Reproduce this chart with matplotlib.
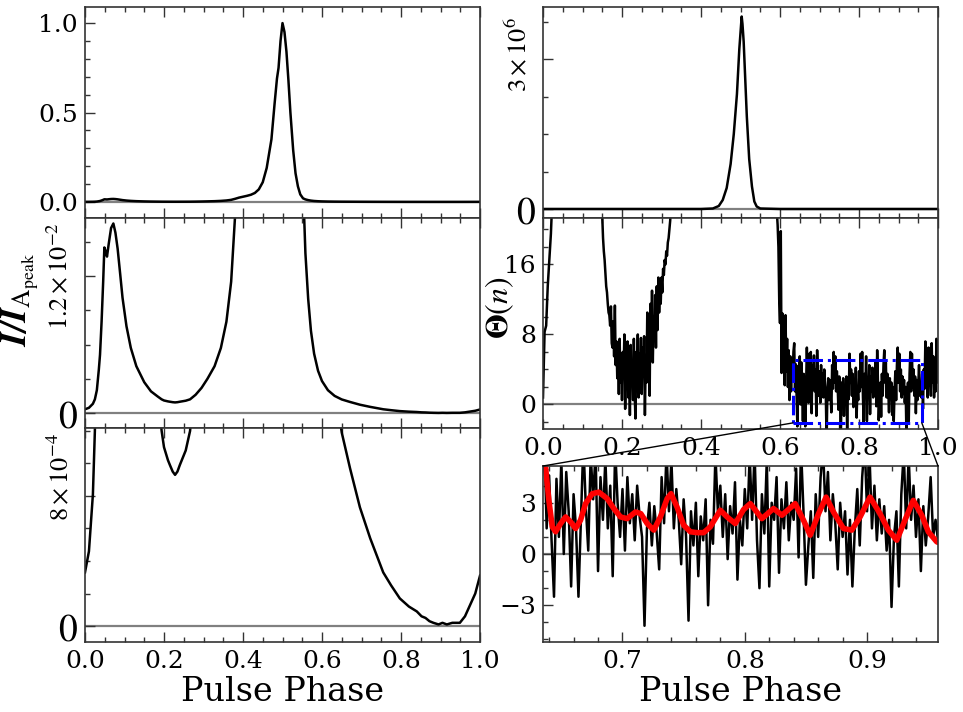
import numpy as np
import matplotlib
matplotlib.use("Agg")
import matplotlib.pyplot as plt
from matplotlib.patches import Rectangle, ConnectionPatch
from matplotlib.ticker import MultipleLocator, FixedLocator

# ---- pulse profile, normalised to the main peak (left column) ----
prof_phase = [0.000, 0.010, 0.020, 0.025, 0.030, 0.035, 0.038, 0.042, 0.046, 0.049,
              0.052, 0.0557, 0.060, 0.066, 0.0718, 0.077, 0.0826, 0.089, 0.095, 0.105,
              0.116, 0.130, 0.150, 0.167, 0.184, 0.194, 0.200, 0.210, 0.215, 0.222,
              0.228, 0.234, 0.240, 0.245, 0.255, 0.266, 0.280, 0.295, 0.310, 0.328,
              0.344, 0.358, 0.370, 0.380, 0.390, 0.400, 0.410, 0.420, 0.430, 0.440,
              0.450, 0.460, 0.472, 0.480, 0.486, 0.490, 0.495, 0.500, 0.505, 0.510,
              0.515, 0.520, 0.527, 0.533, 0.539, 0.545, 0.552, 0.558, 0.565, 0.572,
              0.580, 0.590, 0.600, 0.615, 0.632, 0.650, 0.671, 0.696, 0.722, 0.755,
              0.775, 0.797, 0.820, 0.840, 0.852, 0.862, 0.872, 0.882, 0.895, 0.905,
              0.916, 0.930, 0.949, 0.962, 0.975, 0.988, 1.000]
prof = [0.00033, 0.00046, 0.00081, 0.00120, 0.0020, 0.0038, 0.0051, 0.0080, 0.0115, 0.0145,
        0.0142, 0.0137, 0.0148, 0.0162, 0.0166, 0.0158, 0.0144, 0.0122, 0.0101, 0.0076,
        0.0057, 0.0041, 0.0027, 0.0019, 0.00145, 0.00120, 0.00110, 0.00102, 0.00099, 0.00095,
        0.00093, 0.00095, 0.00099, 0.00102, 0.00108, 0.00120, 0.0016, 0.0022, 0.0030, 0.0041,
        0.0057, 0.0080, 0.0115, 0.0173, 0.024, 0.029, 0.034, 0.040, 0.050, 0.070,
        0.11, 0.19, 0.35, 0.55, 0.69, 0.75, 0.90, 1.00, 0.95, 0.84,
        0.68, 0.50, 0.29, 0.16, 0.087, 0.042, 0.020, 0.0140, 0.0100, 0.0072,
        0.0052, 0.0037, 0.0028, 0.0020, 0.0015, 0.00119, 0.00097, 0.00073, 0.00054, 0.00033,
        0.00025, 0.00017, 0.00012, 0.00009, 0.00006, 0.00005, 0.00003, 0.00002, 0.00001, 0.00002,
        0.00001, 0.00002, 0.00002, 0.00006, 0.00013, 0.00020, 0.00031]

# ---- counts profile (right top) ----
cnt_phase = [0.000, 0.400, 0.430, 0.445, 0.455, 0.465, 0.475, 0.483, 0.491, 0.497,
             0.503, 0.505, 0.508, 0.512, 0.516, 0.522, 0.529, 0.535, 0.541, 0.550,
             0.600, 1.000]
cnt = [0.0, 0.0, 0.01e6, 0.06e6, 0.18e6, 0.42e6, 0.90e6, 1.50e6, 2.30e6, 3.20e6,
       3.85e6, 3.70e6, 3.35e6, 2.60e6, 1.85e6, 1.00e6, 0.45e6, 0.15e6, 0.05e6, 0.01e6,
       0.0, 0.0]

# ---- Theta(n) statistic ----
theta_rise_phase = [0.000, 0.004, 0.008, 0.012, 0.016, 0.020, 0.024, 0.060, 0.100, 0.140]
theta_rise = [0.8, 8.3, 9.0, 13.5, 16.4, 19.5, 24.0, 60.0, 60.0, 40.0]

theta_dip_start, theta_bin = 0.150, 0.002
theta_dip = [21.5, 19.0, 17.5, 16.5, 15.0, 13.5, 12.8, 11.5, 10.5, 10.2,
             9.0, 11.2, 7.0, 6.5, 9.5, 5.5, 11.3, 4.5, 7.2, 3.0,
             6.5, 1.2, 7.5, 2.5, 5.8, 0.5, 6.0, 3.5, 8.0, -0.5,
             4.5, 2.0, 7.2, 0.8, 5.0, -1.2, 6.8, 2.5, 4.2, 0.5,
             7.5, 1.5, -1.6, 6.0, 3.0, 8.0, 0.8, 5.8, 2.2, 7.6,
             1.2, 6.5, 3.8, 7.8, -1.2, 5.0, 2.5, 10.5, 4.8, 9.5,
             1.0, 11.5, 5.5, 13.0, 4.8, 10.0, 7.5, 12.5, 6.5, 13.5,
             8.5, 14.5, 10.5, 13.2, 11.5, 14.5, 12.8, 15.5, 14.8, 16.5,
             16.0, 17.5, 17.0, 18.5, 19.0, 20.0, 21.0, 23.0, 25.0, 40.0]

theta_gap_phase = [0.400, 0.500, 0.560]
theta_gap = [80.0, 200.0, 80.0]

theta_tail_start = 0.590
theta_tail = [30.0, 22.0, 20.5, 18.0, 12.0, 9.3, 19.8, 3.6, 10.4, 4.5,
              9.5, 2.2, 10.2, 3.8, 7.5, 2.0, 6.2, 0.5, 5.5, 1.5,
              4.8, 3.0, 6.0, 7.0, 1.5, 4.6, 0.8, -2.5, 4.4, 1.0,
              5.5, 0.0, 4.8, 2.5, -1.9, 3.5, 1.5, -2.5, 2.0, 6.5,
              2.8, 0.2, 5.8, 3.2, 6.0, -1.0, 4.5, 2.0, 5.6, 1.5,
              4.0, -1.3, 6.2, 3.0, 1.0, 3.8, 0.2, 4.5, 1.8, 3.5,
              0.8, 4.0, 2.2, 1.0, -4.2, 1.5, 3.0, 0.5, 2.8, 1.2,
              -0.9, 4.5, 1.8, 6.0, 2.5, 5.5, 1.5, 3.8, 2.0, -0.6,
              3.2, 1.0, -3.9, 2.5, 0.5, 3.0, -1.3, 2.2, 0.8, 3.2,
              -3.0, 2.0, 0.6, 5.8, 2.5, 4.0, 1.0, 3.5, -0.3, 2.8,
              1.2, 4.2, -1.5, 2.0, 0.5, 3.8, 1.5, 5.8, 2.0, 6.0,
              0.8, -2.0, 3.5, 1.2, 5.5, -1.9, 3.0, 2.0, 4.5, -1.1,
              3.2, 1.5, 4.2, 0.8, 3.0, 2.0, 5.0, -0.2, 6.2, 2.5,
              -1.8, 0.5, 2.5, -1.4, 3.5, 1.0, 4.5, 6.2, 2.5, 4.8,
              0.8, 3.5, 1.8, -0.9, 3.0, 1.0, 2.5, -1.2, 2.0, -1.9,
              1.5, 3.8, 0.5, 4.5, 6.5, 2.5, 5.8, 1.5, 4.0, 0.8,
              3.2, 1.2, 2.8, 0.2, 2.0, -3.1, 1.0, 2.5, -1.9, 3.5,
              6.0, 1.5, 5.8, 2.0, 4.0, 1.0, 3.2, -1.0, 2.8, 0.5,
              2.2, 4.5, 1.0, 2.0, 0.8, 3.5, -0.5, 4.0, 1.8, 7.2,
              2.0, 5.0, 0.8, 6.5, 2.2, 4.5, 1.0, 7.0, 2.5, 5.5,
              0.8, 3.8, 1.5, 7.5, 2.5, 5.0]

# ---- smoothed Theta(n) in the zoomed window (red) ----
smooth_phase = [0.6371, 0.6398, 0.6426, 0.6453, 0.6494, 0.6535, 0.6576, 0.6616, 0.6657, 0.6698,
                0.6753, 0.6807, 0.6875, 0.6929, 0.6984, 0.7038, 0.7106, 0.7150, 0.7202, 0.7256,
                0.7310, 0.7365, 0.7397, 0.7446, 0.7500, 0.7555, 0.7609, 0.7664, 0.7718, 0.7800,
                0.7855, 0.7922, 0.7990, 0.8045, 0.8140, 0.8235, 0.8304, 0.8412, 0.8480, 0.8535,
                0.8603, 0.8665, 0.8725, 0.8807, 0.8875, 0.8943, 0.9024, 0.9106, 0.9174, 0.9243,
                0.9310, 0.9378, 0.9447, 0.9501, 0.9569, 0.9580]
theta_smooth = [5.08, 3.14, 1.59, 1.30, 1.78, 2.17, 1.88, 1.49, 1.98, 2.95,
                3.53, 3.62, 3.24, 2.66, 2.17, 2.07, 2.46, 2.36, 1.78, 1.40,
                2.17, 3.24, 3.53, 2.75, 1.69, 1.30, 1.25, 1.25, 1.59, 2.56,
                2.17, 1.78, 2.60, 2.95, 2.07, 2.66, 2.27, 2.95, 1.98, 1.10,
                2.36, 3.33, 2.46, 1.49, 1.40, 2.17, 3.33, 2.36, 1.40, 0.81,
                1.98, 3.14, 2.27, 1.30, 0.72, 0.68]

zoom_window = (0.635, 0.958)

plt.rcParams.update({
    "font.family": "serif",
    "font.serif": ["DejaVu Serif"],
    "mathtext.fontset": "stix",
    "font.size": 18,
    "xtick.direction": "in",
    "ytick.direction": "in",
    "xtick.top": True,
    "ytick.right": False,
    "xtick.major.size": 7,
    "xtick.minor.size": 3.5,
    "ytick.major.size": 7,
    "ytick.minor.size": 3.5,
    "xtick.major.pad": 6,
    "ytick.major.pad": 5,
    "axes.linewidth": 1.2,
    "axes.edgecolor": "0.2",
})

fig = plt.figure(figsize=(9.63, 7.12), dpi=100)
W, H = 963.0, 712.0


def add_ax(x0, y_top, x1, y_bot):
    return fig.add_axes([x0 / W, 1 - y_bot / H, (x1 - x0) / W, (y_bot - y_top) / H])


ax_l1 = add_ax(85, 7, 480, 218)
ax_l2 = add_ax(85, 218, 480, 428)
ax_l3 = add_ax(85, 428, 480, 642)
ax_r1 = add_ax(543, 7, 938, 218)
ax_r2 = add_ax(543, 218, 938, 429)
ax_r3 = add_ax(543, 466, 938, 642)

theta_phase = np.concatenate([
    theta_rise_phase,
    theta_dip_start + theta_bin * np.arange(len(theta_dip)),
    theta_gap_phase,
    theta_tail_start + theta_bin * np.arange(len(theta_tail)),
])
theta = np.concatenate([theta_rise, theta_dip, theta_gap, theta_tail])

line_kw = dict(color="black", lw=1.8)
zero_kw = dict(color="gray", lw=1.6, zorder=1)

for ax in (ax_l1, ax_l2, ax_l3):
    ax.axhline(0, **zero_kw)
    ax.plot(prof_phase, prof, **line_kw)
    ax.set_xlim(0, 1)
    ax.xaxis.set_major_locator(MultipleLocator(0.2))
    ax.xaxis.set_minor_locator(MultipleLocator(0.05))

ax_l1.set_ylim(-0.09, 1.09)
ax_l1.yaxis.set_major_locator(MultipleLocator(0.5))
ax_l1.yaxis.set_minor_locator(MultipleLocator(0.1))

ax_l2.set_ylim(-0.00131, 0.01708)
ax_l2.yaxis.set_minor_locator(MultipleLocator(0.003))

ax_l3.set_ylim(-0.98e-4, 1.218e-3)
ax_l3.yaxis.set_minor_locator(MultipleLocator(2e-4))

ax_r1.axhline(0, **zero_kw)
ax_r1.plot(cnt_phase, cnt, **line_kw)
ax_r1.set_xlim(0, 1)
ax_r1.set_ylim(-0.18e6, 4.04e6)
ax_r1.yaxis.set_minor_locator(MultipleLocator(0.75e6))

ax_r2.axhline(0, **zero_kw)
ax_r2.plot(theta_phase, theta, **line_kw)
ax_r2.set_xlim(0, 1)
ax_r2.set_ylim(-2.8, 21.3)
ax_r2.yaxis.set_major_locator(MultipleLocator(8))
ax_r2.yaxis.set_minor_locator(MultipleLocator(2))

for ax in (ax_r1, ax_r2):
    ax.xaxis.set_major_locator(MultipleLocator(0.2))
    ax.xaxis.set_minor_locator(MultipleLocator(0.05))

ax_r3.axhline(0, **zero_kw)
ax_r3.plot(theta_phase, theta, **line_kw)
ax_r3.plot(smooth_phase, theta_smooth, color="red", lw=4,
           solid_capstyle="round", solid_joinstyle="round")
ax_r3.set_xlim(*zoom_window)
ax_r3.set_ylim(-5.15, 5.15)
ax_r3.xaxis.set_major_locator(MultipleLocator(0.1))
ax_r3.xaxis.set_minor_locator(MultipleLocator(0.02))
ax_r3.yaxis.set_major_locator(MultipleLocator(3))
ax_r3.yaxis.set_minor_locator(MultipleLocator(1))

for ax in (ax_l1, ax_l2, ax_r1):
    ax.tick_params(labelbottom=False)
for ax in (ax_l1, ax_l2, ax_l3, ax_r1, ax_r2, ax_r3):
    ax.tick_params(which="both", width=1.0, color="0.2")

# big "0" plus rotated power-of-ten label, nudged like the original
sci_ticks = [(ax_l2, 0.012, r"$1.2\times10^{-2}$", 0),
             (ax_l3, 8e-4, r"$8\times10^{-4}$", 19),
             (ax_r1, 3e6, r"$3\times10^{6}$", 5)]
for ax, val, lab, dy in sci_ticks:
    ax.yaxis.set_major_locator(FixedLocator([0, val]))
    ax.set_yticklabels([r"$0$", ""])
    ax.get_yticklabels()[0].set_fontsize(27)
    ax.annotate(lab, xy=(0, val), xycoords=("axes fraction", "data"),
                xytext=(-12, dy), textcoords="offset pixels",
                rotation=90, ha="right", va="center", fontsize=19)

# zoom box and connectors
rect_lo, rect_hi = -2.1, 5.1
ax_r2.add_patch(Rectangle((zoom_window[0] - 0.002, rect_lo), zoom_window[1] - zoom_window[0] + 0.003,
                          rect_hi - rect_lo, fill=False, edgecolor="blue", lw=2.2,
                          linestyle="-.", zorder=5))
for xa, xb in ((zoom_window[0] - 0.002, zoom_window[0]), (zoom_window[1] + 0.001, zoom_window[1])):
    con = ConnectionPatch(xyA=(xa, rect_lo), coordsA=ax_r2.transData,
                          xyB=(xb, 5.15), coordsB=ax_r3.transData,
                          color="black", lw=1.0)
    fig.add_artist(con)

ax_l3.set_xlabel("Pulse Phase", fontsize=24, labelpad=2)
ax_r3.set_xlabel("Pulse Phase", fontsize=24, labelpad=2)

fig.text(20 / W, 1 - 300 / H, r"$\mathbfit{I/I}_{\mathrm{A}_{\mathrm{peak}}}$",
         rotation=90, ha="center", va="center", fontsize=26)
fig.text(500 / W, 1 - 308 / H, r"$\mathbf{\Theta}(n)$",
         rotation=90, ha="center", va="center", fontsize=23)

fig.savefig("out.png", dpi=100)
